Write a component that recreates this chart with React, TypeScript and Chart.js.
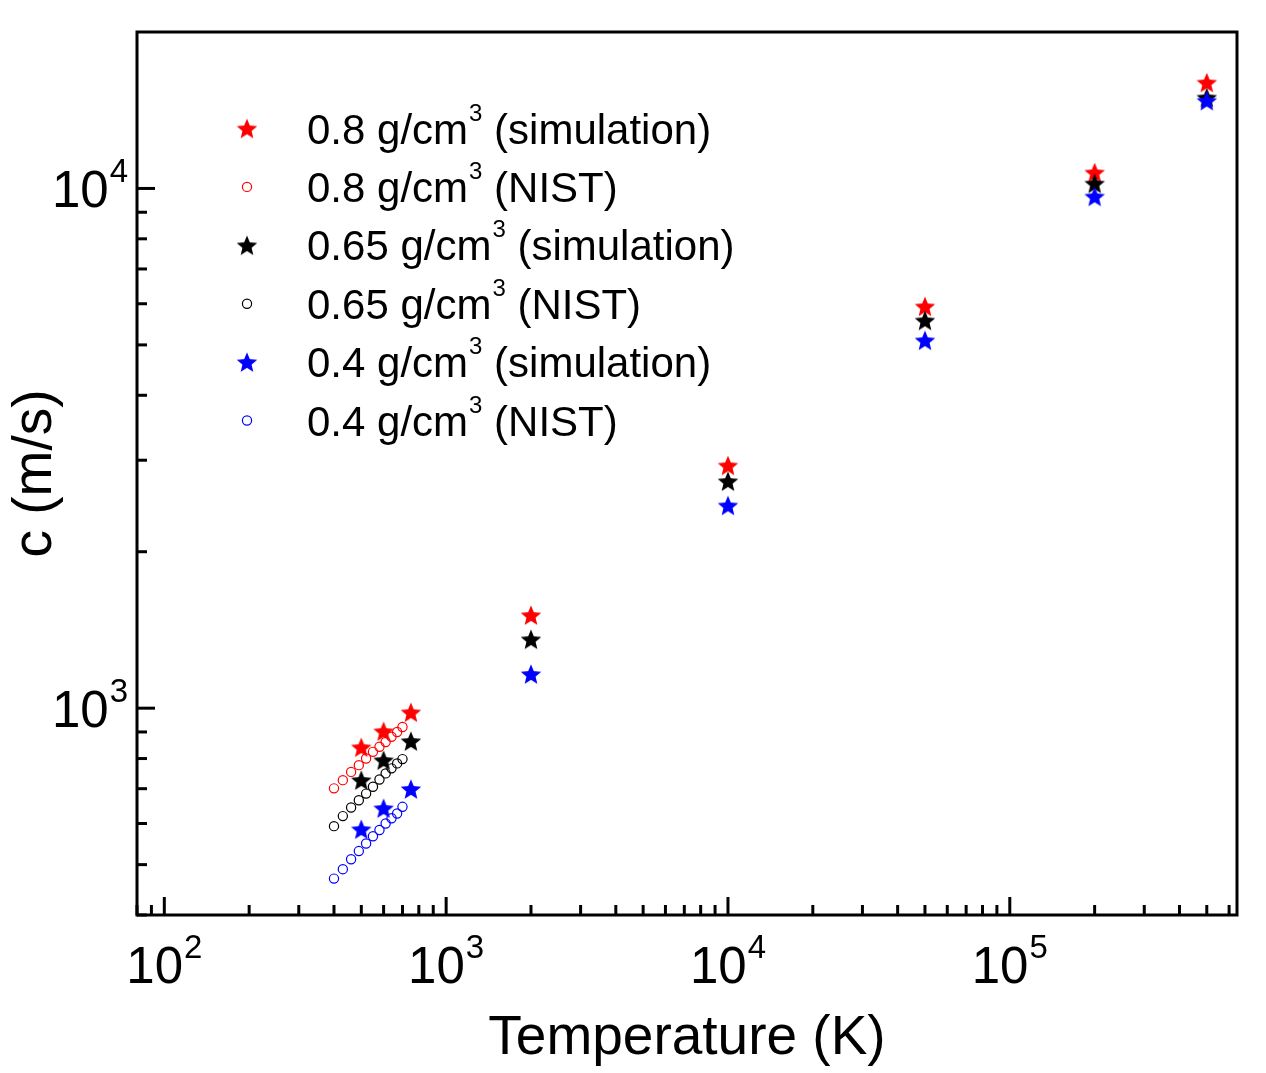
import React, { useEffect, useRef } from "react";
import { Chart, registerables } from "chart.js";

Chart.register(...registerables);

// Speed of sound vs temperature for three densities
const simTemperatures = [500, 600, 750, 2000, 10000, 50000, 200000, 500000];
const sim08 = [841, 903, 982, 1510, 2931, 5930, 10735, 15990];
const sim065 = [727, 794, 864, 1357, 2733, 5572, 10222, 14960];
const sim04 = [585, 642, 699, 1163, 2455, 5102, 9652, 14750];

const nistTemperatures = [400, 430, 460, 490, 520, 550, 580, 610, 640, 670, 700];
const nist08 = [701, 727, 754, 777, 800, 824, 843, 861, 881, 900, 920];
const nist065 = [593, 620, 644, 665, 685, 706, 729, 749, 766, 783, 798];
const nist04 = [470, 490, 512, 531, 549, 567, 583, 600, 614, 627, 646];

const legendDensities = ["0.8", "0.8", "0.65", "0.65", "0.4", "0.4"];
const legendSources = ["simulation", "NIST", "simulation", "NIST", "simulation", "NIST"];

const xMajorExponents = [2, 3, 4, 5];
const yMajorExponents = [3, 4];

const X_MIN = 80;
const X_MAX = 640000;
const Y_MIN = 400;
const Y_MAX = 20000;

const RED = "#ff0000";
const BLACK = "#000000";
const BLUE = "#0000ff";
const FONT = '"Liberation Sans", Arial, Helvetica, sans-serif';

function makeStar(color: string, outer: number, inner: number): HTMLCanvasElement {
  const size = Math.ceil(outer * 2 + 2);
  const c = document.createElement("canvas");
  c.width = size;
  c.height = size;
  const g = c.getContext("2d")!;
  g.fillStyle = color;
  g.beginPath();
  const cx = size / 2;
  const cy = size / 2 + outer * 0.09;
  for (let i = 0; i < 10; i++) {
    const r = i % 2 === 0 ? outer : inner;
    const ang = -Math.PI / 2 + (i * Math.PI) / 5;
    const px = cx + r * Math.cos(ang);
    const py = cy + r * Math.sin(ang);
    if (i === 0) g.moveTo(px, py);
    else g.lineTo(px, py);
  }
  g.closePath();
  g.fill();
  return c;
}

function toPoints(xs: number[], ys: number[]) {
  return xs.map((x, i) => ({ x, y: ys[i] }));
}

function drawPower(
  ctx: CanvasRenderingContext2D,
  exp: number,
  x: number,
  baseline: number,
  align: "center" | "right"
) {
  const baseSize = 51;
  const supSize = 33;
  ctx.font = `${baseSize}px ${FONT}`;
  const w1 = ctx.measureText("10").width;
  ctx.font = `${supSize}px ${FONT}`;
  const w2 = ctx.measureText(String(exp)).width;
  const total = w1 + w2 + 1;
  const start = align === "center" ? x - total / 2 : x - total;
  ctx.textAlign = "left";
  ctx.textBaseline = "alphabetic";
  ctx.font = `${baseSize}px ${FONT}`;
  ctx.fillText("10", start, baseline);
  ctx.font = `${supSize}px ${FONT}`;
  ctx.fillText(String(exp), start + w1 + 1, baseline - 25);
}

export default function App() {
  const canvasRef = useRef<HTMLCanvasElement | null>(null);

  useEffect(() => {
    const canvas = canvasRef.current;
    if (!canvas) return;

    const starRed = makeStar(RED, 10.8, 4.8);
    const starBlack = makeStar(BLACK, 10.8, 4.8);
    const starBlue = makeStar(BLUE, 10.8, 4.8);
    const legendStars = [starRed, null, starBlack, null, starBlue, null];
    const legendColors = [RED, RED, BLACK, BLACK, BLUE, BLUE];

    const axesPlugin = {
      id: "frameAxes",
      afterDatasetsDraw(chart: any) {
        const { ctx, chartArea: a, scales } = chart;
        const xs = scales.x;
        const ys = scales.y;
        ctx.save();
        ctx.strokeStyle = "#000";
        ctx.lineWidth = 3;
        ctx.lineCap = "butt";

        // inward ticks on the bottom axis
        for (let e = 1; e <= 5; e++) {
          for (let m = 1; m <= 9; m++) {
            const v = m * Math.pow(10, e);
            if (v < X_MIN || v > X_MAX) continue;
            const px = xs.getPixelForValue(v);
            const len = m === 1 ? 18 : 10;
            ctx.beginPath();
            ctx.moveTo(px, a.bottom);
            ctx.lineTo(px, a.bottom - len);
            ctx.stroke();
          }
        }
        // inward ticks on the left axis
        for (let e = 2; e <= 4; e++) {
          for (let m = 1; m <= 9; m++) {
            const v = m * Math.pow(10, e);
            if (v < Y_MIN || v >= Y_MAX) continue;
            const py = ys.getPixelForValue(v);
            const len = m === 1 ? 18 : 10;
            ctx.beginPath();
            ctx.moveTo(a.left, py);
            ctx.lineTo(a.left + len, py);
            ctx.stroke();
          }
        }

        ctx.lineJoin = "miter";
        ctx.strokeRect(a.left, a.top, a.right - a.left, a.bottom - a.top);

        // tick labels
        ctx.fillStyle = "#000";
        xMajorExponents.forEach((e) => {
          const px = xs.getPixelForValue(Math.pow(10, e));
          drawPower(ctx, e, px, a.bottom + 68, "center");
        });
        yMajorExponents.forEach((e) => {
          const py = ys.getPixelForValue(Math.pow(10, e));
          drawPower(ctx, e, a.left - 9, py + 19, "right");
        });

        // axis titles
        ctx.font = `55px ${FONT}`;
        ctx.textAlign = "center";
        ctx.textBaseline = "alphabetic";
        ctx.fillText("Temperature (K)", (a.left + a.right) / 2, 1054);
        ctx.save();
        ctx.translate(51, (a.top + a.bottom) / 2);
        ctx.rotate(-Math.PI / 2);
        ctx.fillText("c (m/s)", 0, 0);
        ctx.restore();

        // legend
        const rowY0 = 128.5;
        const rowGap = 58.4;
        legendDensities.forEach((d, i) => {
          const cy = rowY0 + i * rowGap;
          const star = legendStars[i];
          if (star) {
            ctx.drawImage(star, 247 - star.width / 2, cy - star.height / 2);
          } else {
            ctx.beginPath();
            ctx.lineWidth = 1.2;
            ctx.strokeStyle = legendColors[i];
            ctx.arc(247, cy, 4.6, 0, Math.PI * 2);
            ctx.stroke();
          }
          const base = cy + 15;
          let tx = 307;
          ctx.textAlign = "left";
          ctx.fillStyle = "#000";
          ctx.font = `42px ${FONT}`;
          const first = `${d} g/cm`;
          ctx.fillText(first, tx, base);
          tx += ctx.measureText(first).width + 1;
          ctx.font = `24px ${FONT}`;
          ctx.fillText("3", tx, base - 23);
          tx += ctx.measureText("3").width;
          ctx.font = `42px ${FONT}`;
          ctx.fillText(` (${legendSources[i]})`, tx, base);
        });

        ctx.restore();
      },
    };

    const circleStyle = (color: string) => ({
      pointStyle: "circle" as const,
      pointRadius: 4.6,
      pointBorderWidth: 1.2,
      pointBorderColor: color,
      pointBackgroundColor: "rgba(0,0,0,0)",
      showLine: false,
    });
    const starStyle = (img: HTMLCanvasElement) => ({
      pointStyle: img,
      pointRadius: 10,
      showLine: false,
    });

    const chart = new Chart(canvas, {
      type: "scatter",
      data: {
        datasets: [
          { label: "0.8 NIST", data: toPoints(nistTemperatures, nist08), order: 10, ...circleStyle(RED) },
          { label: "0.65 NIST", data: toPoints(nistTemperatures, nist065), order: 11, ...circleStyle(BLACK) },
          { label: "0.4 NIST", data: toPoints(nistTemperatures, nist04), order: 12, ...circleStyle(BLUE) },
          { label: "0.8 simulation", data: toPoints(simTemperatures, sim08), order: 3, ...starStyle(starRed) },
          { label: "0.65 simulation", data: toPoints(simTemperatures, sim065), order: 2, ...starStyle(starBlack) },
          { label: "0.4 simulation", data: toPoints(simTemperatures, sim04), order: 1, ...starStyle(starBlue) },
        ] as any,
      },
      options: {
        responsive: false,
        animation: false,
        layout: { padding: { left: 137, right: 29, top: 32, bottom: 158 } },
        scales: {
          x: { type: "logarithmic", min: X_MIN, max: X_MAX, display: false },
          y: { type: "logarithmic", min: Y_MIN, max: Y_MAX, display: false },
        },
        plugins: {
          legend: { display: false },
          tooltip: { enabled: false },
        },
      },
      plugins: [axesPlugin],
    });

    return () => chart.destroy();
  }, []);

  return (
    <div style={{ position: "absolute", left: 0, top: 0, width: 1266, height: 1073, background: "#fff" }}>
      <canvas ref={canvasRef} width={1266} height={1073} style={{ display: "block" }} />
    </div>
  );
}
